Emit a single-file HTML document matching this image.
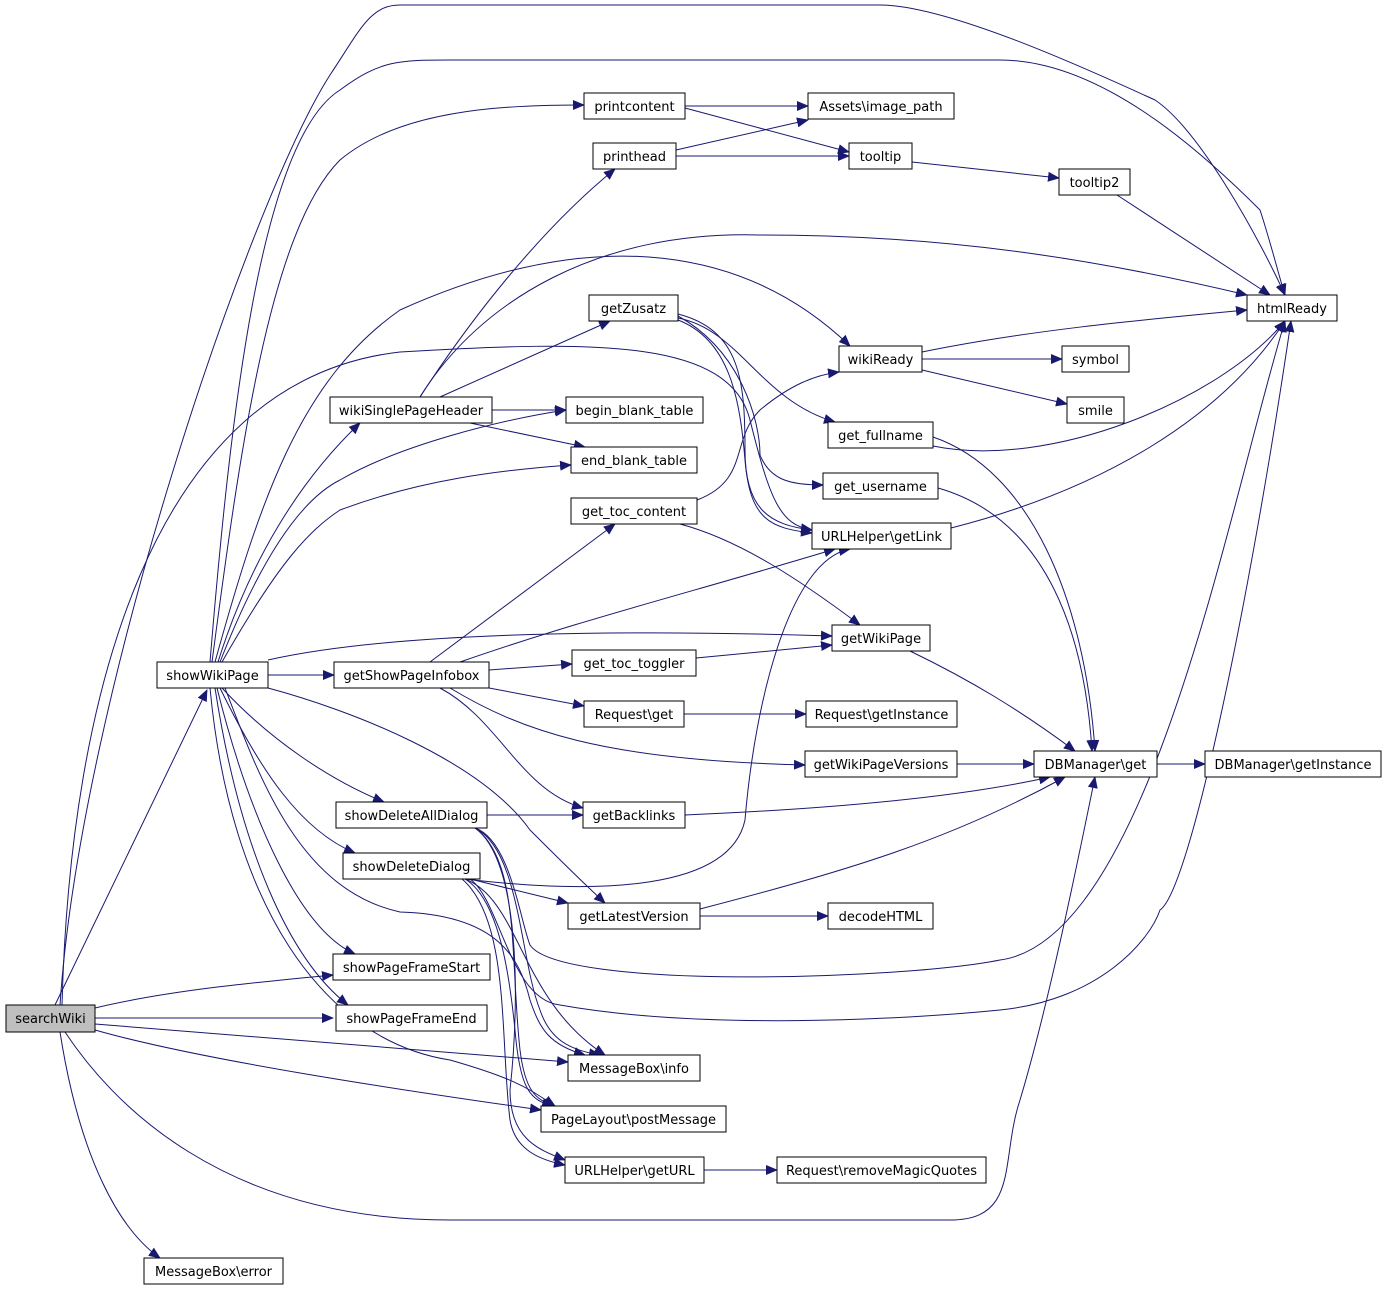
<!DOCTYPE html>
<html><head><meta charset="utf-8"><style>
html,body{margin:0;padding:0;background:#fff}
svg{display:block}
text{font-family:"DejaVu Sans","Liberation Sans",sans-serif;font-size:13px;fill:#000}
.n{fill:#fff;stroke:#000;stroke-width:1}
.e{fill:none;stroke:#191970;stroke-width:1;marker-end:url(#a)}
</style></head><body>
<svg width="1387" height="1291" viewBox="0 0 1387 1291">
<defs><marker id="a" markerWidth="12" markerHeight="10" refX="11" refY="5" orient="auto" markerUnits="userSpaceOnUse"><path d="M0,0 L12,5 L0,10 z" fill="#191970"/></marker></defs>
<g>
<!-- edges -->
<path class="e" d="M60,1005 C80,700 250,200 330,75 C360,30 370,5 400,5 L880,5 C950,5 1100,75 1155,100 C1200,130 1260,240 1285,295"/>
<path class="e" d="M55,1005 L207,690"/>
<path class="e" d="M95,1008 C170,990 260,982 333,975"/>
<path class="e" d="M95,1018 L333,1018"/>
<path class="e" d="M95,1024 L568,1062"/>
<path class="e" d="M95,1030 C200,1060 400,1090 541,1110"/>
<path class="e" d="M60,1032 C80,1160 120,1230 160,1258"/>
<path class="e" d="M65,1032 C110,1100 220,1220 450,1220 L950,1220 C1020,1220 1000,1160 1020,1100 C1050,1000 1080,850 1095,777"/>
<path class="e" d="M62,1005 C70,700 150,380 400,352 C600,340 730,340 750,420 C770,500 780,525 812,530"/>
<path class="e" d="M212,662 C240,450 270,230 340,160 C400,110 500,105 584,105"/>
<path class="e" d="M210,662 C230,420 260,140 340,90 C380,60 400,60 450,60 L1000,60 C1100,60 1200,150 1260,210 C1270,240 1280,280 1285,295"/>
<path class="e" d="M215,662 C260,500 300,380 400,310 C600,220 750,250 850,346"/>
<path class="e" d="M218,662 C250,560 300,480 360,423"/>
<path class="e" d="M220,662 C260,560 300,500 340,480 C400,445 500,420 566,410"/>
<path class="e" d="M222,662 C280,560 310,530 340,510 C420,480 500,470 571,465"/>
<path class="e" d="M268,660 C400,630 650,630 832,636"/>
<path class="e" d="M268,675 L334,675"/>
<path class="e" d="M268,688 C350,710 480,760 530,830 C560,860 580,880 605,903"/>
<path class="e" d="M222,688 C270,740 330,780 384,802"/>
<path class="e" d="M220,688 C260,770 300,830 355,853"/>
<path class="e" d="M217,688 C250,820 300,930 355,954"/>
<path class="e" d="M215,688 C240,850 290,960 348,1005"/>
<path class="e" d="M225,688 C260,780 300,890 400,912 C500,915 520,960 530,1000 C540,1030 550,1045 585,1055"/>
<path class="e" d="M210,688 C230,900 320,1040 450,1060 C520,1080 530,1090 555,1106"/>
<path class="e" d="M420,397 C470,320 540,230 615,169"/>
<path class="e" d="M440,397 L610,321"/>
<path class="e" d="M492,410 L566,410"/>
<path class="e" d="M470,423 L585,447"/>
<path class="e" d="M420,397 C480,300 600,230 760,235 C950,235 1100,260 1247,295"/>
<path class="e" d="M685,106 L808,106"/>
<path class="e" d="M685,108 L849,152"/>
<path class="e" d="M676,150 L808,120"/>
<path class="e" d="M676,156 L849,156"/>
<path class="e" d="M912,162 L1059,178"/>
<path class="e" d="M1117,195 L1270,295"/>
<path class="e" d="M678,318 C740,330 760,400 835,422"/>
<path class="e" d="M678,316 C740,350 760,420 760,455 C770,480 790,485 823,485"/>
<path class="e" d="M678,314 C740,330 745,380 745,450 C745,510 770,525 812,530"/>
<path class="e" d="M678,320 C730,340 740,400 745,460 C750,520 770,528 812,533"/>
<path class="e" d="M922,352 C1030,330 1140,320 1247,310"/>
<path class="e" d="M922,359 L1062,359"/>
<path class="e" d="M922,370 L1067,404"/>
<path class="e" d="M933,446 C1050,470 1220,400 1285,321"/>
<path class="e" d="M933,437 C1030,470 1085,600 1095,751"/>
<path class="e" d="M938,488 C1050,520 1085,640 1092,751"/>
<path class="e" d="M951,528 C1100,490 1220,420 1285,321"/>
<path class="e" d="M697,500 C750,480 730,440 760,410 C790,385 815,375 839,372"/>
<path class="e" d="M680,524 C740,540 800,580 860,625"/>
<path class="e" d="M430,662 L615,524"/>
<path class="e" d="M460,662 C580,620 700,590 835,549"/>
<path class="e" d="M489,670 L572,664"/>
<path class="e" d="M489,688 L584,706"/>
<path class="e" d="M440,688 C500,720 520,790 583,808"/>
<path class="e" d="M450,688 C520,730 600,760 805,765"/>
<path class="e" d="M696,658 L832,645"/>
<path class="e" d="M910,651 C970,680 1020,710 1075,751"/>
<path class="e" d="M684,714 L806,714"/>
<path class="e" d="M957,764 L1034,764"/>
<path class="e" d="M1157,764 L1205,764"/>
<path class="e" d="M685,815 C850,808 970,795 1050,777"/>
<path class="e" d="M487,815 L583,815"/>
<path class="e" d="M475,828 C510,840 520,920 530,945 C560,990 900,980 1000,960 C1150,940 1230,500 1285,321"/>
<path class="e" d="M475,828 C520,850 520,960 540,1010 C550,1040 570,1050 600,1055"/>
<path class="e" d="M475,828 C520,860 510,960 520,1050 C525,1090 535,1100 555,1106"/>
<path class="e" d="M475,828 C520,860 520,1000 510,1090 C510,1140 540,1150 565,1160"/>
<path class="e" d="M465,879 C600,895 730,890 745,820 C755,700 790,560 850,549"/>
<path class="e" d="M470,879 L568,903"/>
<path class="e" d="M470,879 C500,900 510,1000 560,1005 C700,1030 900,1020 1000,1010 C1100,1000 1150,940 1160,910 C1190,890 1250,600 1291,321"/>
<path class="e" d="M465,879 C520,900 520,1000 605,1055"/>
<path class="e" d="M465,879 C500,900 510,980 515,1030 C520,1090 530,1100 553,1106"/>
<path class="e" d="M462,879 C510,920 500,1040 510,1120 C515,1150 540,1160 565,1165"/>
<path class="e" d="M700,909 C850,870 950,840 1065,777"/>
<path class="e" d="M700,916 L828,916"/>
<path class="e" d="M704,1170 L777,1170"/>
</g>
<g>
<rect x="6" y="1005" width="89" height="27" fill="#bfbfbf" stroke="#000"/><text x="50.5" y="1023" text-anchor="middle">searchWiki</text>
<rect class="n" x="157" y="662" width="111" height="26"/><text x="212.5" y="680" text-anchor="middle">showWikiPage</text>
<rect class="n" x="144" y="1258" width="139" height="26"/><text x="213.5" y="1276" text-anchor="middle">MessageBox\error</text>
<rect class="n" x="584" y="93" width="101" height="26"/><text x="634.5" y="111" text-anchor="middle">printcontent</text>
<rect class="n" x="593" y="143" width="83" height="26"/><text x="634.5" y="161" text-anchor="middle">printhead</text>
<rect class="n" x="808" y="93" width="146" height="26"/><text x="881" y="111" text-anchor="middle">Assets\image_path</text>
<rect class="n" x="849" y="143" width="63" height="26"/><text x="880.5" y="161" text-anchor="middle">tooltip</text>
<rect class="n" x="1059" y="169" width="71" height="26"/><text x="1094.5" y="187" text-anchor="middle">tooltip2</text>
<rect class="n" x="1247" y="295" width="90" height="26"/><text x="1292" y="313" text-anchor="middle">htmlReady</text>
<rect class="n" x="589" y="295" width="89" height="26"/><text x="633.5" y="313" text-anchor="middle">getZusatz</text>
<rect class="n" x="839" y="346" width="83" height="26"/><text x="880.5" y="364" text-anchor="middle">wikiReady</text>
<rect class="n" x="1062" y="346" width="67" height="26"/><text x="1095.5" y="364" text-anchor="middle">symbol</text>
<rect class="n" x="1067" y="397" width="57" height="26"/><text x="1095.5" y="415" text-anchor="middle">smile</text>
<rect class="n" x="330" y="397" width="162" height="26"/><text x="411" y="415" text-anchor="middle">wikiSinglePageHeader</text>
<rect class="n" x="566" y="397" width="137" height="26"/><text x="634.5" y="415" text-anchor="middle">begin_blank_table</text>
<rect class="n" x="571" y="447" width="126" height="26"/><text x="634" y="465" text-anchor="middle">end_blank_table</text>
<rect class="n" x="828" y="422" width="105" height="26"/><text x="880.5" y="440" text-anchor="middle">get_fullname</text>
<rect class="n" x="823" y="473" width="115" height="26"/><text x="880.5" y="491" text-anchor="middle">get_username</text>
<rect class="n" x="571" y="498" width="126" height="26"/><text x="634" y="516" text-anchor="middle">get_toc_content</text>
<rect class="n" x="812" y="523" width="139" height="26"/><text x="881.5" y="541" text-anchor="middle">URLHelper\getLink</text>
<rect class="n" x="832" y="625" width="98" height="26"/><text x="881" y="643" text-anchor="middle">getWikiPage</text>
<rect class="n" x="334" y="662" width="155" height="26"/><text x="411.5" y="680" text-anchor="middle">getShowPageInfobox</text>
<rect class="n" x="572" y="650" width="124" height="26"/><text x="634" y="668" text-anchor="middle">get_toc_toggler</text>
<rect class="n" x="584" y="701" width="100" height="26"/><text x="634" y="719" text-anchor="middle">Request\get</text>
<rect class="n" x="806" y="701" width="151" height="26"/><text x="881.5" y="719" text-anchor="middle">Request\getInstance</text>
<rect class="n" x="805" y="751" width="152" height="26"/><text x="881" y="769" text-anchor="middle">getWikiPageVersions</text>
<rect class="n" x="1034" y="751" width="123" height="26"/><text x="1095.5" y="769" text-anchor="middle">DBManager\get</text>
<rect class="n" x="1205" y="751" width="176" height="26"/><text x="1293" y="769" text-anchor="middle">DBManager\getInstance</text>
<rect class="n" x="583" y="802" width="102" height="26"/><text x="634" y="820" text-anchor="middle">getBacklinks</text>
<rect class="n" x="336" y="802" width="151" height="26"/><text x="411.5" y="820" text-anchor="middle">showDeleteAllDialog</text>
<rect class="n" x="343" y="853" width="137" height="26"/><text x="411.5" y="871" text-anchor="middle">showDeleteDialog</text>
<rect class="n" x="568" y="903" width="132" height="26"/><text x="634" y="921" text-anchor="middle">getLatestVersion</text>
<rect class="n" x="828" y="903" width="105" height="26"/><text x="880.5" y="921" text-anchor="middle">decodeHTML</text>
<rect class="n" x="333" y="954" width="157" height="26"/><text x="411.5" y="972" text-anchor="middle">showPageFrameStart</text>
<rect class="n" x="336" y="1005" width="151" height="26"/><text x="411.5" y="1023" text-anchor="middle">showPageFrameEnd</text>
<rect class="n" x="568" y="1055" width="132" height="26"/><text x="634" y="1073" text-anchor="middle">MessageBox\info</text>
<rect class="n" x="541" y="1106" width="185" height="26"/><text x="633.5" y="1124" text-anchor="middle">PageLayout\postMessage</text>
<rect class="n" x="565" y="1157" width="139" height="26"/><text x="634.5" y="1175" text-anchor="middle">URLHelper\getURL</text>
<rect class="n" x="777" y="1157" width="209" height="26"/><text x="881.5" y="1175" text-anchor="middle">Request\removeMagicQuotes</text>
</g>
</svg>
</body></html>
